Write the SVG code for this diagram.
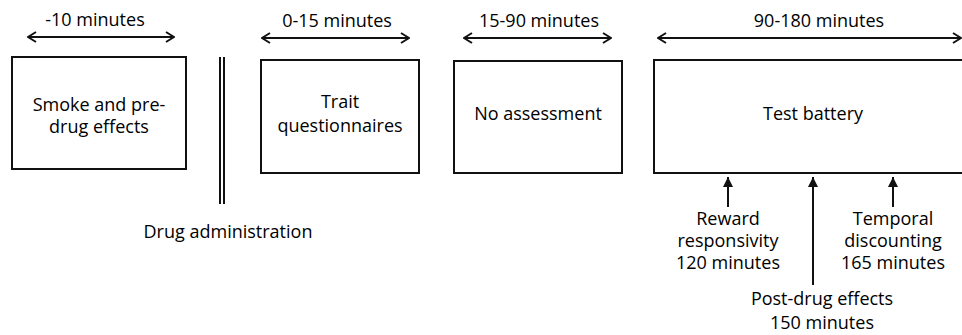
<svg xmlns="http://www.w3.org/2000/svg" width="962" height="335" viewBox="0 0 962 335">
<style>
text{font-family:"Open Sans","Noto Sans",sans-serif;font-size:18px;fill:#000;text-anchor:middle}
.box{fill:#fff;stroke:#111;stroke-width:2}
.ln{stroke:#111;stroke-width:2;fill:none}
</style>
<defs>
<marker id="chev" viewBox="0 0 10 12" refX="9" refY="6" markerWidth="10" markerHeight="12" markerUnits="userSpaceOnUse" orient="auto-start-reverse">
<path d="M1,1 L9,6 L1,11" fill="none" stroke="#111" stroke-width="2"/>
</marker>
<marker id="tri" viewBox="0 0 10 10" refX="10" refY="5" markerWidth="10" markerHeight="10" markerUnits="userSpaceOnUse" orient="auto">
<path d="M0,0 L10,5 L0,10 Z" fill="#111"/>
</marker>
</defs>
<rect width="962" height="335" fill="#fff"/>
<g id="connectors">
<line class="ln" x1="28" y1="37" x2="174" y2="37" marker-start="url(#chev)" marker-end="url(#chev)"/>
<line class="ln" x1="262" y1="38" x2="409" y2="38" marker-start="url(#chev)" marker-end="url(#chev)"/>
<line class="ln" x1="464" y1="38" x2="611" y2="38" marker-start="url(#chev)" marker-end="url(#chev)"/>
<line class="ln" x1="658" y1="38" x2="961" y2="38" marker-start="url(#chev)" marker-end="url(#chev)"/>
<line class="ln" x1="728" y1="207" x2="728" y2="177" marker-end="url(#tri)"/>
<line class="ln" x1="813" y1="285" x2="813" y2="177" marker-end="url(#tri)"/>
<line class="ln" x1="893" y1="207" x2="893" y2="177" marker-end="url(#tri)"/>
</g>
<g id="labels">
<text x="95" y="26">-10 minutes</text>
<text x="337" y="27">0-15 minutes</text>
<text x="539" y="27">15-90 minutes</text>
<text x="819" y="27">90-180 minutes</text>
</g>
<g id="smoke">
<rect class="box" x="12" y="57" width="174" height="112"/>
<text x="99" y="111">Smoke and pre-</text>
<text x="99" y="133">drug effects</text>
</g>
<g id="drug-admin">
<line class="ln" x1="220" y1="57" x2="220" y2="204" stroke-width="1.5"/>
<line class="ln" x1="224" y1="57" x2="224" y2="204" stroke-width="1.5"/>
<text x="228" y="238">Drug administration</text>
</g>
<g id="trait">
<rect class="box" x="261" y="60" width="158" height="113"/>
<text x="340" y="108">Trait</text>
<text x="340" y="132">questionnaires</text>
</g>
<g id="no-assessment">
<rect class="box" x="454" y="61" width="168" height="112"/>
<text x="538" y="120">No assessment</text>
</g>
<g id="test-battery">
<rect class="box" x="654" y="60" width="320" height="113"/>
<text x="813" y="120">Test battery</text>
</g>
<g id="reward">
<text x="728" y="225">Reward</text>
<text x="728" y="247">responsivity</text>
<text x="728" y="269">120 minutes</text>
</g>
<g id="post-drug">
<text x="822" y="305">Post-drug effects</text>
<text x="822" y="329">150 minutes</text>
</g>
<g id="temporal">
<text x="893" y="225">Temporal</text>
<text x="893" y="247">discounting</text>
<text x="893" y="269">165 minutes</text>
</g>
</svg>
